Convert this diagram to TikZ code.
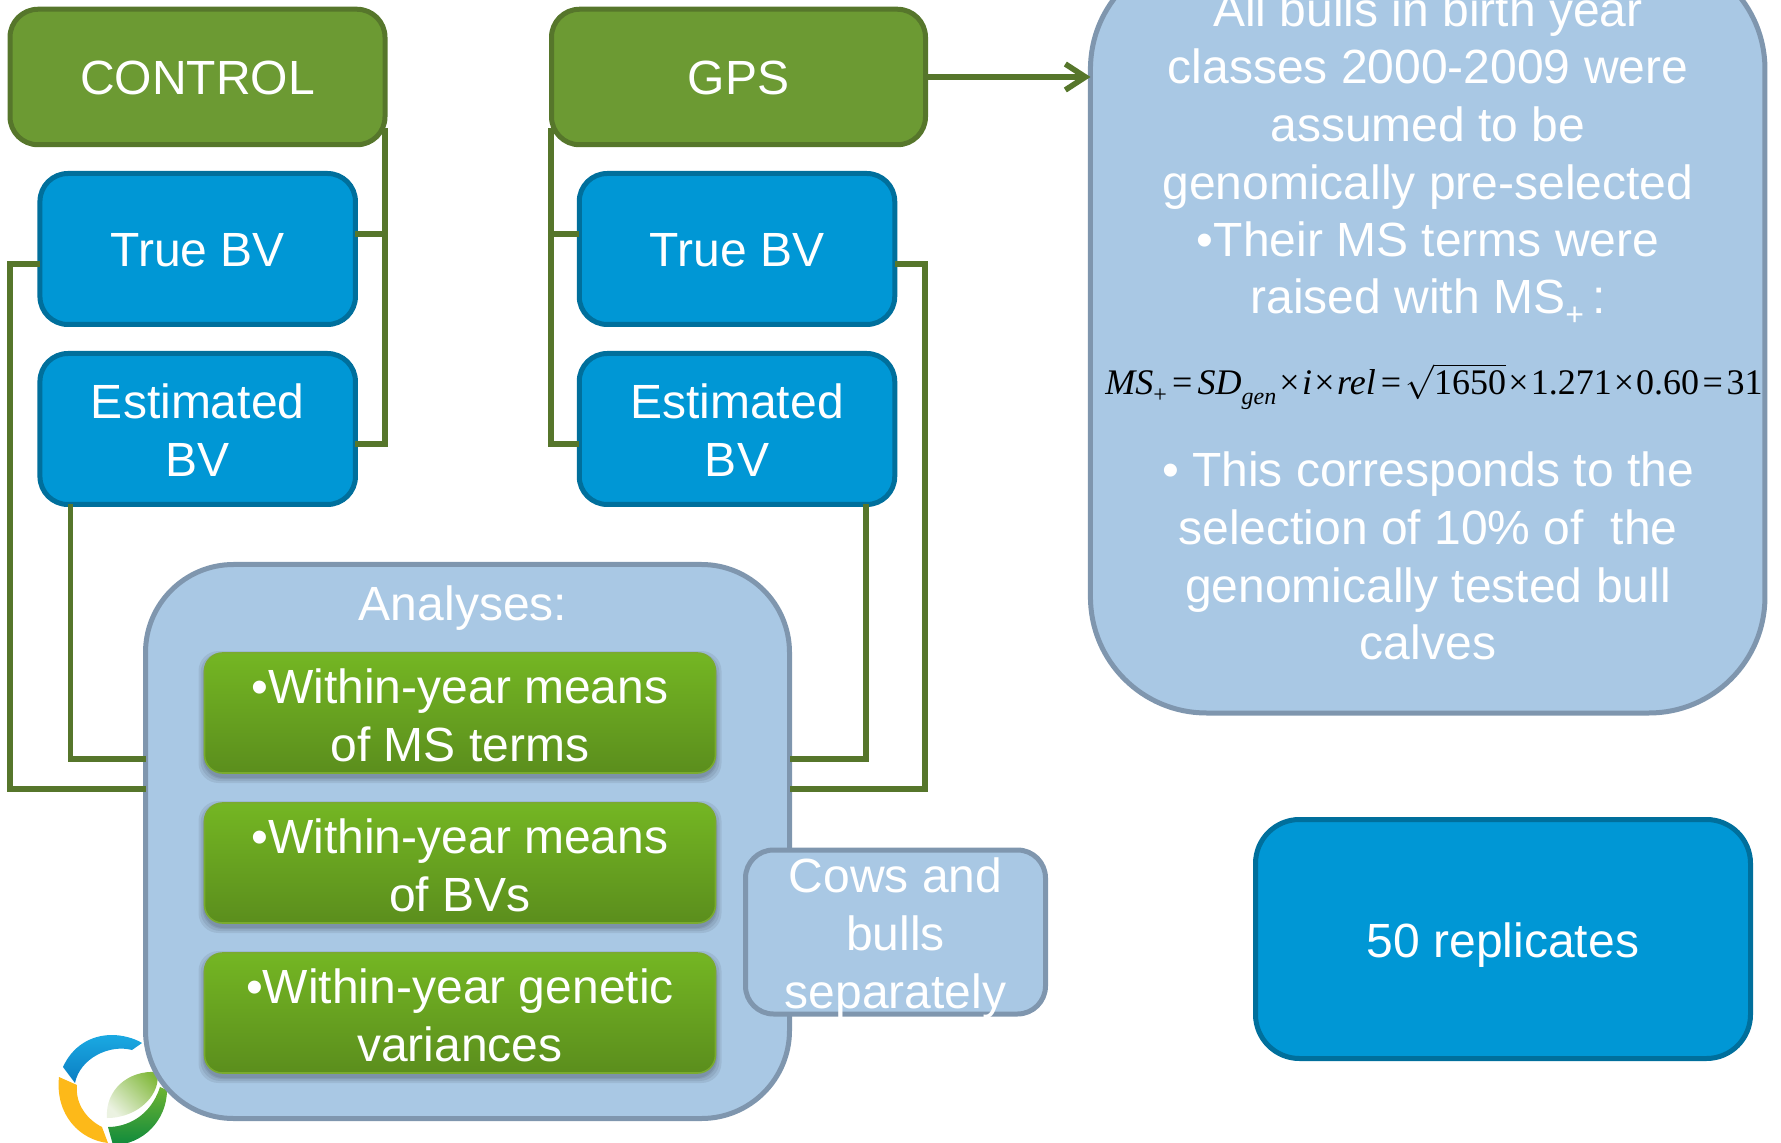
\documentclass[tikz,border=0pt]{standalone}
\usepackage{fontspec}
\setmainfont{Liberation Sans}
\newfontfamily\fserif{Liberation Serif}
\usetikzlibrary{arrows.meta}
\newcommand{\dnshift}[2]{\raisebox{#1}[\height][\depth]{#2}}
\definecolor{lblue}{HTML}{A9C8E4}
\definecolor{lblueb}{HTML}{7F96AE}
\definecolor{dgreen}{HTML}{6C9A33}
\definecolor{dgreenb}{HTML}{56762B}
\definecolor{cblue}{HTML}{0097D5}
\definecolor{cblueb}{HTML}{006F9C}
\definecolor{gtop}{HTML}{74B623}
\definecolor{gbot}{HTML}{5B8E1D}
\definecolor{gline}{HTML}{7AAB2E}
\definecolor{logoyel}{HTML}{FDB919}
\definecolor{logobt}{HTML}{1AA9E2}
\definecolor{logobb}{HTML}{0B7DC2}
\definecolor{logogt}{HTML}{6EB432}
\definecolor{logogb}{HTML}{0F8A3C}
\definecolor{leaflo}{HTML}{EBF2E1}
\definecolor{leafhi}{HTML}{82B93C}
\tikzset{
  px/.style args={#1 and #2}{minimum width=#1*0.5pt,minimum height=#2*0.5pt},
  base/.style={rectangle,inner sep=0pt,outer sep=0pt,align=center,text=white,
    font=\fontsize{24}{28.8}\selectfont},
  headbox/.style={base,draw=dgreenb,fill=dgreen,line width=2.5pt,rounded corners=14pt},
  bluebox/.style={base,draw=cblueb,fill=cblue,line width=2.5pt,rounded corners=14pt},
  lightbox/.style={base,draw=lblueb,fill=lblue,line width=2.5pt},
  menubox/.style={base,draw=gline,line width=0.8pt,top color=gtop,bottom color=gbot,middle color=gtop!50!gbot,rounded corners=9pt},
  shad/.style={fill=black,fill opacity=.07,rectangle,rounded corners=10pt,inner sep=0pt,outer sep=0pt},
  txt/.style={base,anchor=base},
  conn/.style={draw=dgreenb,line width=2.8pt,line cap=butt,line join=miter},
}
\begin{document}
\begin{tikzpicture}[x=0.5pt,y=-0.5pt]
\useasboundingbox (0,0) rectangle (1781,1143);
\clip (0,0) rectangle (1781,1143);

% logo (behind the Analyses box)
\shade[top color=logobt,bottom color=logobb]
  (63,1067) .. controls (72,1047) and (90,1035) .. (112,1035)
  .. controls (122,1035) and (134,1038) .. (142,1043) -- (132,1050)
  .. controls (110,1044) and (80,1058) .. (75,1083) -- cycle;
\fill[logoyel]
  (59,1077) -- (77,1085) .. controls (75,1105) and (88,1120) .. (102,1127)
  -- (108,1143) .. controls (80,1140) and (55,1115) .. (59,1077) -- cycle;
\shade[top color=logogt,bottom color=logogb]
  (108,1127) .. controls (125,1127) and (150,1118) .. (160,1087) -- (167,1090)
  .. controls (167,1120) and (143,1145) .. (113,1145) -- cycle;
\shade[left color=leaflo,right color=leafhi,shading angle=135]
  (107,1118) .. controls (105,1090) and (128,1070) .. (157,1072)
  .. controls (162,1092) and (140,1118) .. cycle;

% top boxes
\node[headbox,px=375 and 135.5] (ctrl) at (197.5,77) {\dnshift{-.6pt}{CONTROL}};
\node[headbox,px=374 and 135.5] (gps) at (738.5,77) {\dnshift{-.6pt}{GPS}};
\node[bluebox,px=315.5 and 151] (ctrue) at (197.7,249) {\dnshift{-.6pt}{True BV}};
\node[bluebox,px=315.5 and 151] (cest) at (197.7,429) {\dnshift{-.6pt}{Estimated}\\\dnshift{-.6pt}{BV}};
\node[bluebox,px=315.5 and 151] (gtrue) at (737,249) {\dnshift{-.6pt}{True BV}};
\node[bluebox,px=315.5 and 151] (gest) at (737,429) {\dnshift{-.6pt}{Estimated}\\\dnshift{-.6pt}{BV}};

% info box
\node[lightbox,px=674.5 and 760,rounded corners=58pt] (info) at (1427.7,333) {};
\node[txt] (i1) at (1428,26.5) {All bulls in birth year};
\node[txt] (i2) at (1428,84) {classes 2000-2009 were};
\node[txt] (i3) at (1428,141.7) {assumed to be};
\node[txt] (i4) at (1428,199.3) {genomically pre-selected};
\node[txt] (i5) at (1428,256.9) {•Their MS terms were};
\node[txt] (i6) at (1428,313.5) {raised with MS\raisebox{-6pt}{\fontsize{16}{16}\selectfont +}\,:};
\node[txt] (i7) at (1428,487) {• This corresponds to the};
\node[txt] (i8) at (1428,544.6) {selection of 10\% of\ \ the};
\node[txt] (i9) at (1428,602.2) {genomically tested bull};
\node[txt] (i10) at (1428,659.8) {calves};
\node[anchor=base,inner sep=0pt,text=black] (form) at (1434,395) {\fserif\fontsize{18}{20}\selectfont
  \textit{MS}\raisebox{-4pt}{\fontsize{12}{12}\selectfont +}\kern2.6pt=\kern2.6pt\textit{SD}\raisebox{-5pt}{\fontsize{12}{12}\selectfont\itshape gen}\kern1.5pt×\kern1.2pt\textit{i}\kern1.2pt×\kern1.2pt\textit{rel}\kern2.6pt=\kern2pt$\sqrt{\hbox{\fserif\fontsize{18}{20}\selectfont 1650}}$\kern1.2pt×\kern1pt1.271\kern1pt×\kern1pt0.60\kern1.8pt=\kern1.8pt31};

% analyses
\node[lightbox,px=644 and 554,rounded corners=44pt] (ana) at (467.5,841.5) {};
\node[txt] (antitle) at (463,620) {Analyses:};
\foreach \c in {713,863,1013}{
  \foreach \s in {6,4,2,1}{
    \node[shad,minimum width=(511+2*\s)*0.5pt,minimum height=(120+2*\s)*0.5pt] at (460,\c+4) {};
  }
}
\node[menubox,px=511 and 120] (m1) at (460,713) {\dnshift{-1.15pt}{•Within-year means}\\\dnshift{-1.15pt}{of MS terms}};
\node[menubox,px=511 and 120] (m2) at (460,863) {\dnshift{-1.15pt}{•Within-year means}\\\dnshift{-1.15pt}{of BVs}};
\node[menubox,px=511 and 120] (m3) at (460,1013) {\dnshift{-1.15pt}{•Within-year genetic}\\\dnshift{-1.15pt}{variances}};

% cows
\node[lightbox,px=300 and 164,rounded corners=14pt] (cows) at (895.5,932) {};
\node[txt] (cw1) at (895.5,892) {Cows and};
\node[txt] (cw2) at (895.5,950) {bulls};
\node[txt] (cw3) at (895.5,1008) {separately};

% replicates
\node[base,draw=cblueb,fill=cblue,line width=2.5pt,rounded corners=22pt,px=495 and 239,text depth=0pt,text height=18.6pt] (reps) at (1503,939) {50 replicates};

% connectors
\coordinate (ca) at (385,128);
\coordinate (cb) at (385,444);
\coordinate (cc) at (10,264);
\coordinate (cd) at (10,789);
\coordinate (ce) at (70.5,759);
\coordinate (ga) at (551,128);
\coordinate (gb) at (551,444);
\coordinate (gc) at (925,264);
\coordinate (gd) at (925,789);
\coordinate (ge) at (866,759);
\draw[conn] (ca) -- (cb) -- (cest.east |- cb);
\draw[conn] (ctrue.east |- 0,234) -- (ca |- 0,234);
\draw[conn] (ctrue.west |- cc) -- (cc) -- (cd) -- (ana.west |- cd);
\draw[conn] (cest.south -| ce) -- (ce) -- (ana.west |- ce);
\draw[conn] (ga) -- (gb) -- (gest.west |- gb);
\draw[conn] (gtrue.west |- 0,234) -- (ga |- 0,234);
\draw[conn] (gtrue.east |- gc) -- (gc) -- (gd) -- (ana.east |- gd);
\draw[conn] (gest.south -| ge) -- (ge) -- (ana.east |- ge);
\draw[conn,-{Straight Barb[length=10pt,width=13pt,line width=2.8pt]}] (gps.east) -- (info.west |- gps.east);
\end{tikzpicture}
\end{document}
